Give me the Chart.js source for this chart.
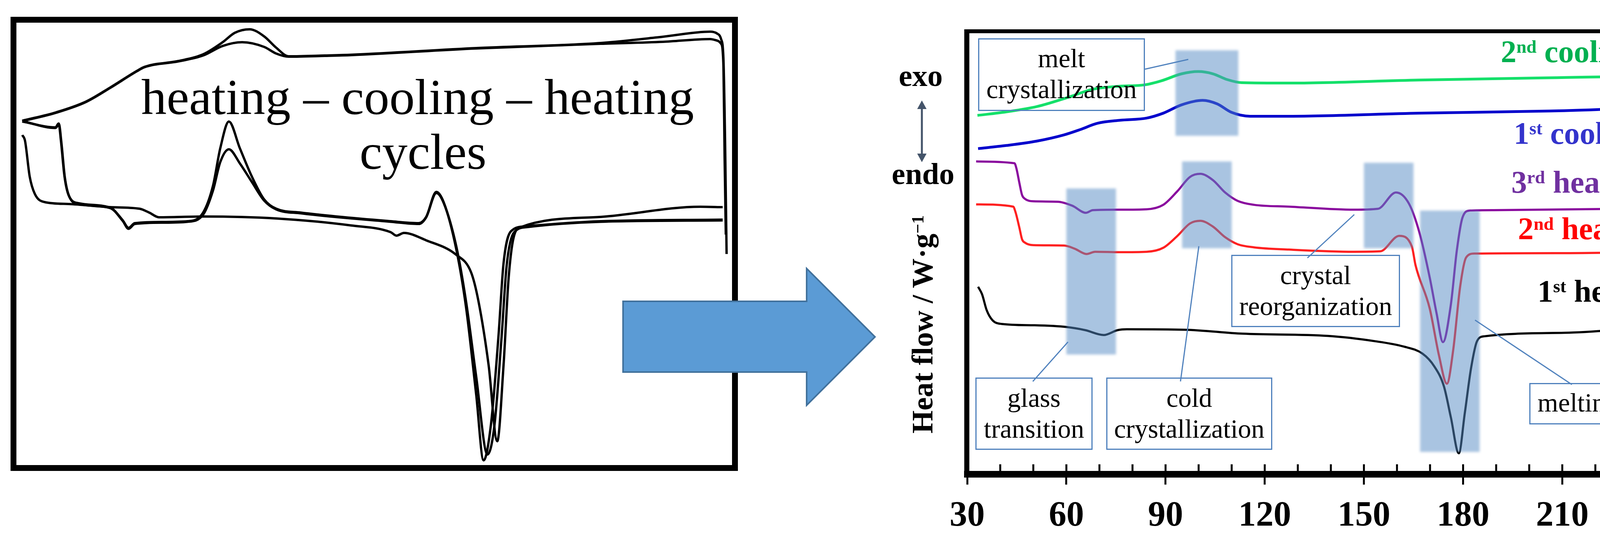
<!DOCTYPE html>
<html>
<head>
<meta charset="utf-8">
<script src="https://cdn.jsdelivr.net/npm/chart.js@4.4.1/dist/chart.umd.min.js"></script>
<style>
html,body{margin:0;padding:0;background:#fff;}
body{width:4375px;height:1415px;position:relative;overflow:hidden;font-family:'Liberation Serif','Times New Roman',serif;}
.abs{position:absolute;white-space:nowrap;line-height:1;}
.lbl{position:absolute;white-space:nowrap;line-height:1;font-weight:bold;font-size:80px;}
.sp{font-size:0.58em;vertical-align:0.52em;line-height:0;}
.box{position:absolute;box-sizing:border-box;border:3px solid #4F81BD;}
.btxt{position:absolute;left:0;right:0;text-align:center;font-size:68px;line-height:79px;color:#000;white-space:nowrap;}
</style>
</head>
<body>
<div style="position:absolute;left:27px;top:43px;width:1862px;height:1162px;box-sizing:border-box;border:15px solid #000;"></div>
<div style="position:absolute;left:42px;top:58px;width:1832px;height:1132px;"><canvas id="leftChart"></canvas></div>

<div class="abs" style="left:1069px;top:183px;font-size:130px;transform:translateX(-50%);">heating – cooling – heating</div>
<div class="abs" style="left:1083px;top:323px;font-size:130px;transform:translateX(-50%);">cycles</div>

<div style="position:absolute;left:2200px;top:0px;width:2175px;height:1415px;"><canvas id="rightChart"></canvas></div>

<svg style="position:absolute;left:0;top:0;" width="4375" height="1415" viewBox="0 0 4375 1415">
  <polygon points="1595,771 2065,771 2065,687 2240,862 2065,1037 2065,952 1595,952" fill="#5B9BD5" stroke="#41719C" stroke-width="4"/>
  <line x1="2360" y1="275" x2="2360" y2="397" stroke="#44546A" stroke-width="5"/>
  <polygon points="2360,257 2372,279 2348,279" fill="#44546A"/>
  <polygon points="2360,415 2372,393 2348,393" fill="#44546A"/>
  <g stroke="#4F81BD" stroke-width="3">
    <line x1="2931" y1="177" x2="3042" y2="152"/>
    <line x1="2644" y1="976" x2="2734" y2="875"/>
    <line x1="3022" y1="976" x2="3069" y2="630"/>
    <line x1="3347" y1="660" x2="3467" y2="549"/>
    <line x1="4024" y1="984" x2="3776" y2="819"/>
  </g>
</svg>

<div class="abs" style="left:2357px;top:155px;font-size:78px;font-weight:bold;transform:translateX(-50%);">exo</div>
<div class="abs" style="left:2363px;top:406px;font-size:78px;font-weight:bold;transform:translateX(-50%);">endo</div>
<div class="abs" style="left:2361px;top:830px;font-size:76px;font-weight:bold;transform:translate(-50%,-50%) rotate(-90deg);">Heat flow / W·g<span class="sp">−1</span></div>

<div class="lbl" style="left:3842px;top:92px;color:#00B050;">2<span class="sp">nd</span> cooling</div>
<div class="lbl" style="left:3875px;top:301px;color:#3333CC;">1<span class="sp">st</span> cooling</div>
<div class="lbl" style="left:3869px;top:426px;color:#7030A0;">3<span class="sp">rd</span> heating</div>
<div class="lbl" style="left:3886px;top:545px;color:#FF0000;">2<span class="sp">nd</span> heating</div>
<div class="lbl" style="left:3936px;top:705px;color:#000000;">1<span class="sp">st</span> heating</div>

<div class="box" style="left:2504px;top:98px;width:427px;height:186px;"><div class="btxt" style="top:9px;">melt<br>crystallization</div></div>
<div class="box" style="left:2497px;top:966px;width:300px;height:185px;"><div class="btxt" style="top:10px;">glass<br>transition</div></div>
<div class="box" style="left:2832px;top:966px;width:425px;height:185px;"><div class="btxt" style="top:10px;">cold<br>crystallization</div></div>
<div class="box" style="left:3152px;top:652px;width:432px;height:185px;"><div class="btxt" style="top:10px;">crystal<br>reorganization</div></div>
<div class="box" style="left:3915px;top:980px;width:250px;height:106px;"><div class="btxt" style="top:8px;">melting</div></div>

<script>
// ---------- Right panel: temperature (°C) and heat flow (arbitrary offset units) ----------
const tempTicks = [30, 60, 90, 120, 150, 180, 210, 240];

const cool2T = [33.1,41.8,51.1,60.6,68.0,76.2,83.7,88.7,94.9,99.9,104.3,108.6,113.0,127.3,166.8,206.4,244.3,246.6,247.8,248.3];
const cool2Q = [81.0,81.8,83.0,85.1,86.9,87.6,87.9,88.8,90.4,90.9,90.4,89.1,88.4,88.3,89.0,89.5,89.9,89.3,82.3,75.4];

const cool1T = [33.3,41.8,51.1,59.3,64.2,69.3,76.2,84.3,89.3,94.9,101.2,105.6,109.9,115.6,127.3,166.8,206.4,243.1,245.9,247.1,247.8,248.3,248.8];
const cool1Q = [73.5,74.2,75.2,76.6,77.8,79.2,79.9,80.4,81.5,83.4,84.4,83.6,81.7,80.8,80.8,81.5,82.0,82.7,82.4,80.3,75.4,68.4,63.4];

const heat3T = [32.7,44.3,44.9,45.8,46.6,47.4,50.0,57.4,61.8,65.9,68.0,76.2,84.3,89.3,93.6,97.4,100.5,104.3,108.0,111.8,116.8,127.3,147.0,154.2,159.7,163.6,166.8,169.9,172.0,173.9,176.3,178.1,179.8,182.0,189.2,248.2];
const heat3Q = [70.6,70.2,69.0,65.7,63.0,62.2,61.6,61.5,60.6,59.0,59.6,59.7,59.8,60.8,63.9,67.1,67.8,66.4,63.6,61.7,60.8,60.4,59.7,59.9,63.6,61.1,54.5,44.4,36.2,29.8,38.3,50.5,57.9,59.5,59.6,60.1];

const heat2T = [32.7,43.9,44.6,45.8,46.6,47.4,50.0,59.3,62.5,66.1,68.7,76.2,84.3,89.3,93.6,97.4,100.5,104.3,108.0,111.8,116.8,127.3,147.0,154.9,160.7,164.5,165.6,169.9,172.7,175.1,177.0,179.1,180.9,183.4,210.7,247.5,248.3];
const heat2Q = [60.9,60.4,59.2,55.6,53.0,52.3,51.7,51.6,50.9,49.7,50.2,50.1,50.2,51.1,53.8,56.6,57.2,55.9,53.5,51.9,51.2,50.7,50.2,50.3,53.8,51.4,47.2,37.4,26.8,20.4,28.0,42.3,48.9,49.8,49.9,50.2,47.7];

const heat1T = [33.3,34.5,35.9,37.7,40.5,50.3,60.1,65.7,71.3,75.5,78.3,95.8,113.4,139.1,153.4,162.0,167.7,171.3,174.2,176.3,178.7,180.5,182.4,184.2,186.3,210.7,228.5,247.5];
const heat1Q = [42.3,40.6,37.0,34.7,33.9,33.6,33.2,32.5,31.4,32.5,32.7,32.6,31.7,31.2,30.0,28.8,27.2,24.3,19.8,12.8,4.7,13.7,23.9,30.0,31.1,31.9,32.7,33.9];

// highlighted transition regions
const bandStart  = [93, 95, 60, 150, 167];
const bandEnd    = [112, 110, 75, 165, 185];
const bandTop    = [95.7, 70.6, 64.5, 70.3, 59.5];
const bandBottom = [76.4, 51.0, 27.0, 51.0, 5.0];

// ---------- Left panel: raw heating–cooling–heating thermogram (arbitrary units) ----------
const leftCoolAU = [0.82,5.62,9.72,13.10,16.87,17.90,22.65,26.09,28.82,30.51,32.59,34.61,36.30,38.05,43.12,46.83,64.25,81.66,90.34,96.94,97.93,98.47,98.80,99.02,99.24];
const leftCoolAQ = [77.83,79.77,82.16,85.34,89.13,90.02,91.34,92.84,95.58,97.70,98.50,96.91,94.35,92.40,92.58,92.76,94.26,95.41,96.82,97.97,97.53,96.29,91.87,74.20,47.70];
const leftCoolBU = [0.82,5.62,9.72,13.10,16.87,17.90,22.65,26.09,28.82,31.55,34.61,36.30,38.05,43.12,46.83,64.25,81.66,90.34,96.94,97.93,98.47,98.80,98.96,99.13];
const leftCoolBQ = [77.74,79.68,82.07,85.25,89.05,89.93,91.25,92.58,94.74,95.58,94.52,93.02,92.31,92.49,92.67,94.17,95.23,95.67,96.29,95.94,95.23,90.10,69.80,52.10];
const leftHeat1U = [0.82,1.20,1.86,2.57,3.93,7.31,13.10,17.19,18.56,19.92,26.09,36.30,46.83,52.29,53.11,54.15,57.26,61.46,63.54,64.57,65.99,67.19,68.07,68.78,69.49,70.52,81.66,95.58,98.69];
const leftHeat1Q = [74.6,73.32,65.19,61.31,59.45,59.01,58.30,57.95,57.07,56.01,56.18,55.74,54.15,52.65,51.86,52.47,50.80,47.53,43.55,37.01,22.53,5.39,22.53,42.23,51.50,53.80,56.10,58.39,58.30];
const leftHeat2U = [0.82,5.46,5.90,6.22,6.71,7.31,8.68,13.10,14.85,15.67,16.54,20.63,23.91,26.09,27.46,28.49,29.69,31.22,32.91,34.61,36.30,39.74,52.29,56.22,57.26,58.68,59.72,61.46,62.83,64.25,65.28,66.32,67.36,68.07,69.10,71.18,81.66,98.69];
const leftHeat2Q = [77.65,76.33,77.20,73.32,65.37,60.95,59.19,58.21,55.34,53.62,54.68,54.95,55.12,57.07,63.07,71.64,77.65,71.64,65.19,60.07,57.95,57.07,55.12,54.68,56.10,61.75,59.36,48.85,35.69,15.90,1.06,9.28,29.06,45.58,52.83,53.97,55.12,55.48];
const leftHeat3U = [0.82,5.46,5.95,6.28,6.77,7.36,8.68,13.10,14.85,15.67,16.54,20.63,23.91,26.09,27.46,28.49,29.69,31.22,32.91,34.61,36.30,39.74,52.29,56.22,57.26,58.68,59.72,61.46,62.83,64.25,65.83,66.80,67.80,68.50,69.50,71.40,81.66,98.69];
const leftHeat3Q = [77.74,76.20,77.00,73.00,65.00,60.80,59.00,58.10,55.20,53.40,54.50,54.80,55.00,56.60,62.00,68.50,71.38,68.20,63.96,59.81,57.80,56.90,55.00,54.50,56.00,61.50,59.20,49.50,37.00,20.00,2.39,9.00,29.00,45.00,52.50,53.80,55.00,55.30];

function pts(xs, ys) { return xs.map((v, i) => ({ x: v, y: ys[i] })); }
Chart.defaults.font.family = "'Liberation Serif','Times New Roman',serif";
Chart.defaults.animation = false;

function leftSet(u, q) {
  return { data: pts(u, q), borderColor: '#000', borderWidth: 6, pointRadius: 0,
           cubicInterpolationMode: 'monotone', fill: false, clip: false };
}
new Chart(document.getElementById('leftChart'), {
  type: 'line',
  data: { datasets: [
    leftSet(leftCoolAU, leftCoolAQ), leftSet(leftCoolBU, leftCoolBQ),
    leftSet(leftHeat1U, leftHeat1Q), leftSet(leftHeat2U, leftHeat2Q), leftSet(leftHeat3U, leftHeat3Q)
  ]},
  options: {
    responsive: true, maintainAspectRatio: false, animation: false,
    layout: { padding: 0 },
    plugins: { legend: { display: false }, tooltip: { enabled: false } },
    scales: { x: { type: 'linear', min: 0, max: 100, display: false }, y: { type: 'linear', min: 0, max: 100, display: false } }
  }
});

const dscPlugin = {
  id: 'dscOverlay',
  afterDatasetsDraw(chart) {
    const { ctx, scales: { x, y } } = chart;
    ctx.save();
    ctx.filter = 'blur(3px)';
    ctx.fillStyle = 'rgba(84,138,196,0.5)';
    for (let i = 0; i < bandStart.length; i++) {
      const x0 = x.getPixelForValue(bandStart[i]), x1 = x.getPixelForValue(bandEnd[i]);
      const y0 = y.getPixelForValue(bandTop[i]), y1 = y.getPixelForValue(bandBottom[i]);
      ctx.fillRect(x0, y0, x1 - x0, y1 - y0);
    }
    ctx.restore();
  },
  afterDraw(chart) {
    const { ctx, chartArea: a, scales: { x } } = chart;
    ctx.save();
    ctx.strokeStyle = '#000';
    ctx.lineWidth = 10;
    ctx.beginPath(); ctx.moveTo(a.left - 7, a.top); ctx.lineTo(a.right + 6, a.top); ctx.stroke();
    ctx.lineWidth = 13;
    ctx.beginPath(); ctx.moveTo(a.left - 1, a.top - 5); ctx.lineTo(a.left - 1, a.bottom + 8); ctx.stroke();
    ctx.lineWidth = 12;
    ctx.beginPath(); ctx.moveTo(a.right, a.top - 5); ctx.lineTo(a.right, a.bottom + 8); ctx.stroke();
    ctx.lineWidth = 5;
    for (let t = 40; t <= 240; t += 10) {
      const px = x.getPixelForValue(t);
      ctx.beginPath(); ctx.moveTo(px, a.bottom - 8); ctx.lineTo(px, a.bottom - 25); ctx.stroke();
    }
    ctx.restore();
  }
};
function rightSet(t, q, color, w) {
  return { data: pts(t, q), borderColor: color, borderWidth: w, pointRadius: 0, cubicInterpolationMode: 'monotone', fill: false };
}
new Chart(document.getElementById('rightChart'), {
  type: 'line',
  data: { datasets: [
    rightSet(heat1T, heat1Q, '#000000', 5.5),
    rightSet(heat2T, heat2Q, '#FF2020', 5.5),
    rightSet(heat3T, heat3Q, '#8A0A9E', 5.5),
    rightSet(cool1T, cool1Q, '#0000CC', 7),
    rightSet(cool2T, cool2Q, '#14E06A', 7)
  ]},
  options: {
    responsive: true, maintainAspectRatio: false, animation: false,
    layout: { padding: { left: 276, right: 37, top: 80, bottom: 0 } },
    plugins: { legend: { display: false }, tooltip: { enabled: false } },
    scales: {
      x: {
        type: 'linear', position: 'bottom', min: 30, max: 250,
        afterFit: (s) => { s.height = 202; },
        border: { display: true, width: 17, color: '#000' },
        grid: { display: true, drawOnChartArea: false, drawTicks: true, tickLength: 27, lineWidth: 5, tickWidth: 5,
          tickColor: (c) => (c.tick && tempTicks.includes(c.tick.value)) ? '#000' : 'rgba(0,0,0,0)' },
        ticks: { stepSize: 10, autoSkip: false, maxRotation: 0, padding: 28, color: '#000',
          font: { size: 90, weight: 'bold', lineHeight: 1.2 },
          callback: (v) => tempTicks.includes(v) ? String(v) : '' }
      },
      y: { type: 'linear', min: 0, max: 100, display: false }
    }
  },
  plugins: [dscPlugin]
});
</script>
</body>
</html>
